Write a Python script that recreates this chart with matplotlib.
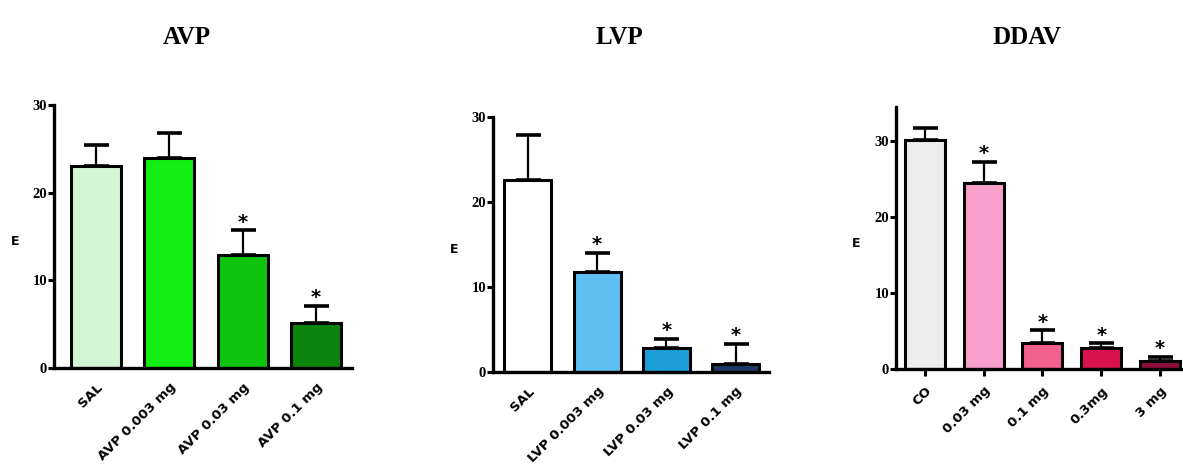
import matplotlib
matplotlib.use("Agg")
import matplotlib.pyplot as plt
import numpy as np

# AVP panel
avp_labels = ["SAL", "AVP 0.003 mg", "AVP 0.03 mg", "AVP 0.1 mg"]
avp_mean = [23.0, 23.9, 12.9, 5.1]
avp_err = [2.4, 2.9, 2.8, 2.0]
avp_sig = [False, False, True, True]
avp_colors = ["#d2f6d2", "#12ee12", "#0fc40f", "#0a840a"]

# LVP panel
lvp_labels = ["SAL", "LVP 0.003 mg", "LVP 0.03 mg", "LVP 0.1 mg"]
lvp_mean = [22.6, 11.8, 2.8, 0.9]
lvp_err = [5.3, 2.2, 1.1, 2.4]
lvp_sig = [False, True, True, True]
lvp_colors = ["#ffffff", "#5ebff3", "#1c9ed8", "#1c3a62"]

# DDAV panel
ddav_labels = ["CO", "0.03 mg", "0.1 mg", "0.3mg", "3 mg"]
ddav_mean = [30.1, 24.5, 3.4, 2.8, 1.1]
ddav_err = [1.6, 2.8, 1.7, 0.6, 0.5]
ddav_sig = [False, True, True, True, True]
ddav_colors = ["#ececec", "#f99fcb", "#f3608e", "#d8124f", "#8e0e3e"]

titles = ["AVP", "LVP", "DDAV"]

fig = plt.figure(figsize=(11.83, 4.76), dpi=100)

def draw_panel(rect, labels, mean, err, sig, colors, xlim, ymax, xticks_out, ylab_x):
    ax = fig.add_axes(rect)
    x = np.arange(len(labels))
    ax.bar(x, mean, width=0.68, color=colors, edgecolor="black", linewidth=2.2, zorder=2)
    ax.errorbar(x, mean, yerr=[np.zeros(len(err)), err], fmt="none", ecolor="black",
                elinewidth=1.6, capsize=9, capthick=2.6, zorder=1)
    for xi, m, e, s in zip(x, mean, err, sig):
        if s:
            ax.annotate("*", (xi, m + e), xytext=(0, -1), textcoords="offset points",
                        ha="center", va="bottom", fontsize=14, fontweight="bold")
    ax.set_xlim(*xlim)
    ax.set_ylim(0, ymax)
    for side in ["top", "right"]:
        ax.spines[side].set_visible(False)
    ax.spines["left"].set_linewidth(2.4)
    ax.spines["bottom"].set_linewidth(2.4)
    ax.spines["left"].set_bounds(0, ymax)
    ax.set_yticks([0, 10, 20, 30])
    ax.tick_params(axis="y", length=4, width=2.2, direction="out", pad=1, labelsize=10.5)
    ax.set_xticks(x)
    ax.set_xticklabels(labels, rotation=45, ha="right", rotation_mode="anchor",
                       fontsize=9.5, fontweight="bold")
    if xticks_out:
        ax.tick_params(axis="x", length=5, width=2.2, direction="out", pad=6)
    else:
        ax.tick_params(axis="x", length=0, pad=9)
    for t in ax.get_yticklabels():
        t.set_fontweight("bold")
        t.set_family("Liberation Serif")
    ax.set_ylabel("E", fontsize=9, fontweight="bold", rotation=0, va="center")
    ax.yaxis.set_label_coords(ylab_x, 0.48)
    ax.patch.set_alpha(0)
    return ax

draw_panel([0.0456, 0.227, 0.252, 0.5525], avp_labels, avp_mean, avp_err, avp_sig,
           avp_colors, (-0.57, 3.49), 30, False, -0.13)
draw_panel([0.4167, 0.2185, 0.2333, 0.5357], lvp_labels, lvp_mean, lvp_err, lvp_sig,
           lvp_colors, (-0.505, 3.48), 30, False, -0.14)
draw_panel([0.7574, 0.2248, 0.2426, 0.5504], ddav_labels, ddav_mean, ddav_err, ddav_sig,
           ddav_colors, (-0.49, 4.39), 34.5, True, -0.14)

for xt, t in zip([187, 620, 1027], titles):
    fig.text(xt / 1183, 1 - 37 / 476, t, ha="center", va="center", fontsize=18,
             fontweight="bold", family="Liberation Serif")

fig.savefig("out.png", dpi=100)
